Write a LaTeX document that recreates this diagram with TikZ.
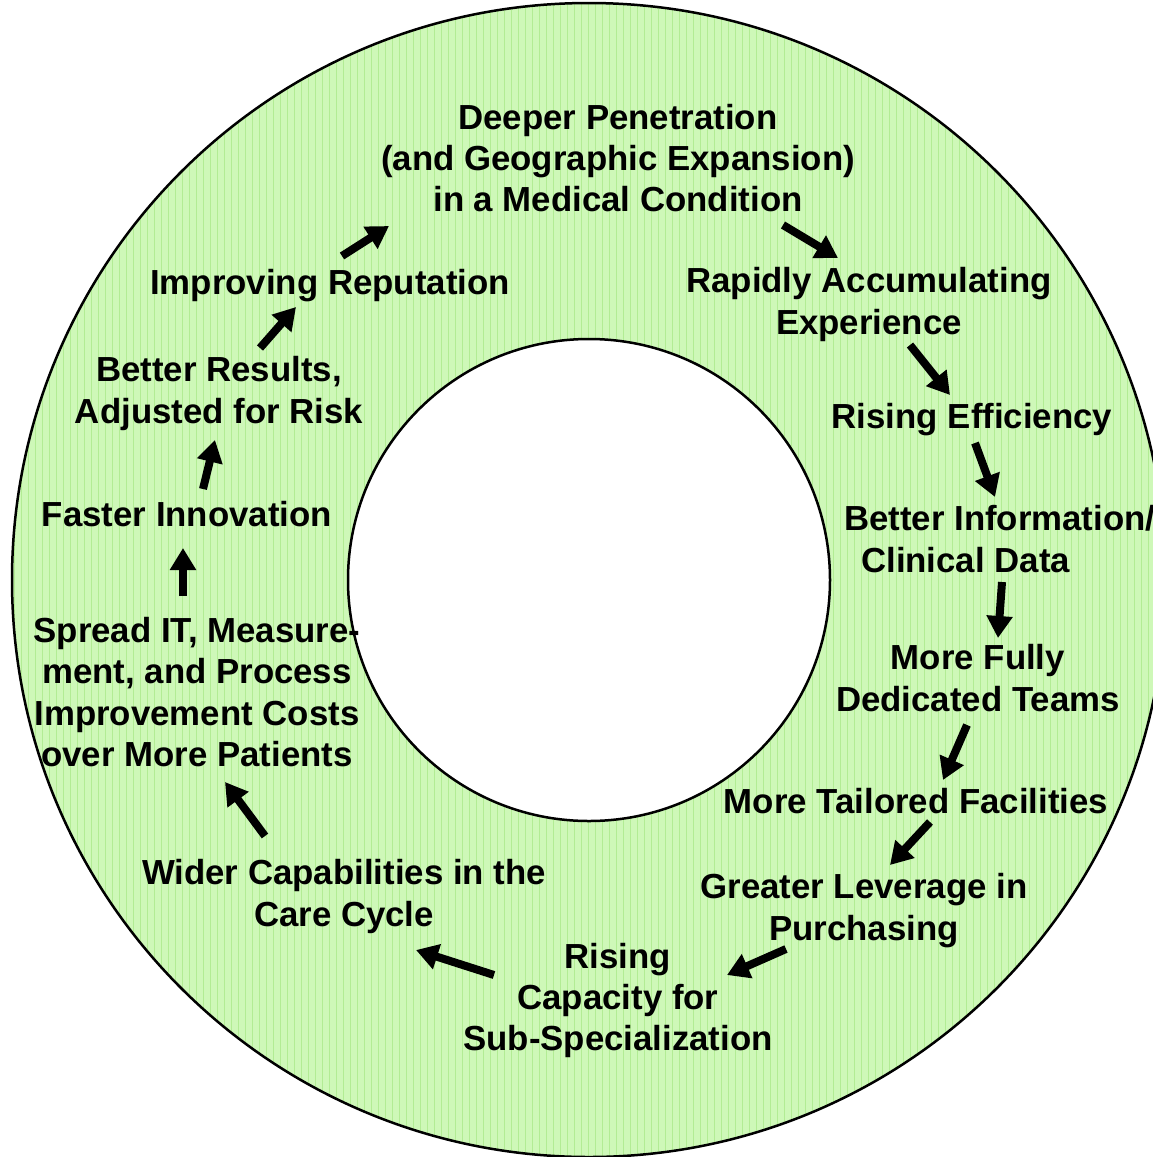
\documentclass[tikz,border=0pt]{standalone}
\usepackage{fontspec}
\setmainfont{Liberation Sans}
\usetikzlibrary{arrows.meta}
\definecolor{ringgreen}{RGB}{206,248,184}
\definecolor{gridgreen}{RGB}{178,236,148}
\begin{document}
\begin{tikzpicture}[x=1pt,y=-1pt,
  lbl/.style={font=\bfseries\fontsize{34.8}{41.4}\selectfont, align=center, inner sep=0pt},
  flow/.style={line width=8pt, -{Triangle[width=25pt,length=22pt]}},
  ring/.style={line width=2.5pt, draw=black}]
\useasboundingbox (0,0) rectangle (1153,1157);
\clip (0,0) rectangle (1153,1157);
% ring fill with grid texture
\fill[ringgreen, even odd rule] (589,580) circle[radius=577] (589,580) circle[radius=241];
\begin{scope}[even odd rule]
  \clip (589,580) circle[radius=577] (589,580) circle[radius=241];
  \draw[gridgreen, line width=0.7pt] (0,0) grid[step=7] (1160,1160);
\end{scope}
\draw[ring] (589,580) circle[radius=577];
\draw[ring] (589,580) circle[radius=241];
% labels
\node[lbl] (deeper) at (618,158) {Deeper Penetration\\(and Geographic Expansion)\\in a Medical Condition};
\node[lbl] (rapid) at (869,304.5) {Rapidly Accumulating\\Experience};
\node[lbl] (eff) at (972,419.5) {Rising Efficiency};
\node[lbl, align=left, anchor=west] (info) at (844,539) {Better Information/\\\hspace*{17pt}Clinical Data};
\node[lbl] (teams) at (978,678) {More Fully\\Dedicated Teams};
\node[lbl] (facil) at (916,801) {More Tailored Facilities};
\node[lbl] (lever) at (864,910.5) {Greater Leverage in\\Purchasing};
\node[lbl] (capac) at (618,1000.5) {Rising\\Capacity for\\Sub-Specialization};
\node[lbl] (wider) at (344,896.5) {Wider Capabilities in the\\Care Cycle};
\node[lbl] (spread) at (197,692) {Spread IT, Measure-\\ment, and Process\\Improvement Costs\\over More Patients};
\node[lbl] (faster) at (187,514) {Faster Innovation};
\node[lbl] (results) at (219,393.5) {Better Results,\\Adjusted for Risk};
\node[lbl] (reput) at (330,286) {Improving Reputation};
% arrow end points
\coordinate (t1) at (342,256);  \coordinate (h1) at (389,226);
\coordinate (t2) at (783,225);  \coordinate (h2) at (838,258);
\coordinate (t3) at (910,345);  \coordinate (h3) at (950,395);
\coordinate (t4) at (975,443);  \coordinate (h4) at (995,497);
\coordinate (t5) at (1002,582); \coordinate (h5) at (998,638);
\coordinate (t6) at (967,725);  \coordinate (h6) at (943,780);
\coordinate (t7) at (930,822);  \coordinate (h7) at (890,865);
\coordinate (t8) at (786,949);  \coordinate (h8) at (727,975);
\coordinate (t9) at (494,975);  \coordinate (h9) at (416,950);
\coordinate (t10) at (265,836); \coordinate (h10) at (225,782);
\coordinate (t11) at (183,596); \coordinate (h11) at (183,548);
\coordinate (t12) at (203,489); \coordinate (h12) at (215,440);
\coordinate (t13) at (260,348); \coordinate (h13) at (296,307);
\foreach \i in {1,...,13} \draw[flow] (t\i) -- (h\i);
\end{tikzpicture}
\end{document}
